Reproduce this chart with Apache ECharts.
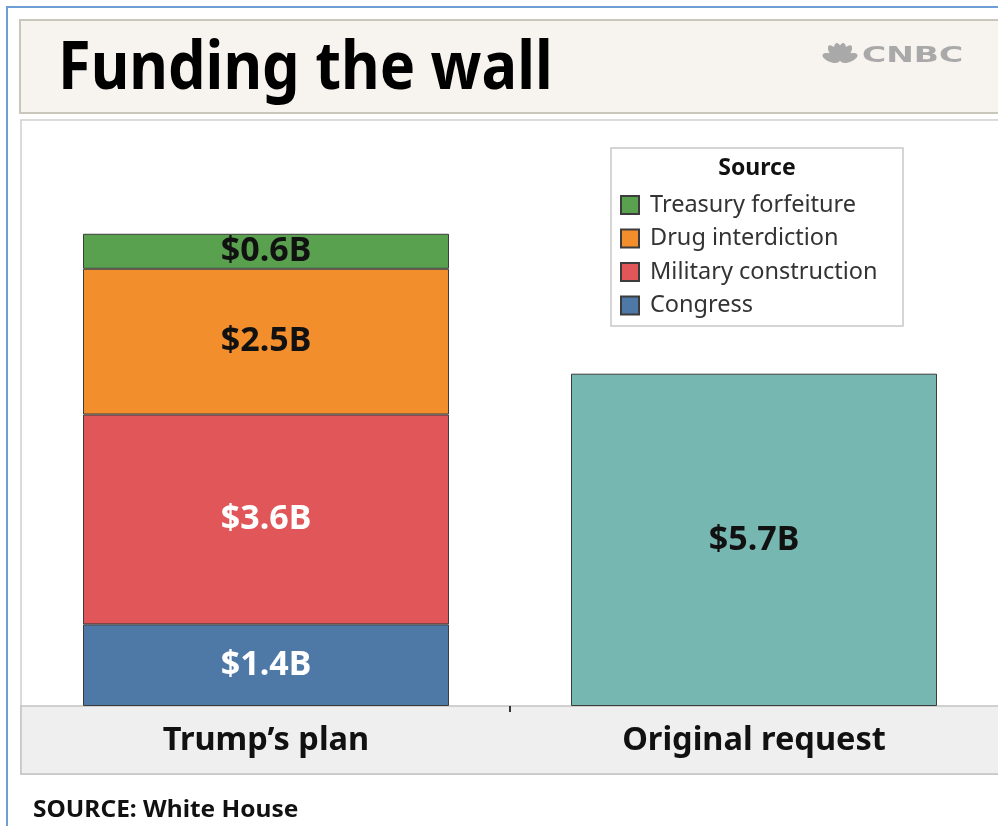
<!DOCTYPE html>
<html>
<head>
<meta charset="utf-8">
<script src="https://cdn.jsdelivr.net/npm/echarts@6/dist/echarts.min.js"></script>
<style>
html,body{margin:0;padding:0;background:#fff;}
#c{width:998px;height:826px;}
</style>
</head>
<body>
<div id="c"></div>
<script>
const categories = ["Trump\u2019s plan", "Original request"];
const congress = [1.4, null];
const military = [3.6, null];
const drug = [2.5, null];
const treasury = [0.6, null];
const original = [null, 5.7];
const legendNames = ["Treasury forfeiture", "Drug interdiction", "Military construction", "Congress"];
const dividerTicks = [1];

const FONT = '"Noto Sans", "Open Sans", sans-serif';
const chart = echarts.init(document.getElementById('c'), null, {renderer: 'canvas'});

function mkSeries(name, data, color, labelColor) {
  return {
    name: name, type: 'bar', stack: 'a', data: data, barWidth: '75%', z: 5, xAxisIndex: 0,
    itemStyle: {color: color, borderColor: '#3c3c3c', borderWidth: 1},
    label: {
      show: true, position: 'inside', fontFamily: FONT, fontSize: 34, fontWeight: 'bold',
      color: labelColor, formatter: p => '$' + p.value + 'B'
    },
    emphasis: {disabled: true}
  };
}

const option = {
  backgroundColor: '#ffffff',
  animation: false,
  grid: {left: 22, top: 123, width: 977, height: 583, containLabel: false},
  xAxis: [{
    type: 'category', data: categories, z: 6,
    axisLine: {show: false},
    axisTick: {show: false},
    axisLabel: {fontFamily: FONT, fontSize: 32.5, fontWeight: 'bold', color: '#111', margin: 18}
  }, {
    type: 'value', min: 0, max: categories.length, interval: 1, position: 'bottom', z: 6,
    axisLine: {show: false}, splitLine: {show: false}, axisLabel: {show: false},
    axisTick: {show: true, length: 6, customValues: dividerTicks, lineStyle: {color: '#333', width: 2}}
  }],
  yAxis: {type: 'value', min: 0, max: 10, show: false, splitLine: {show: false}},
  legend: {
    data: legendNames, orient: 'vertical', left: 620, top: 193, padding: 0,
    itemWidth: 18, itemHeight: 18, itemGap: 9.5, icon: 'rect', z: 8,
    textStyle: {fontFamily: FONT, fontSize: 23.5, color: '#333', lineHeight: 23, padding: [0, 0, 0, 6]},
    selectedMode: false
  },
  series: [
    mkSeries('Congress', congress, '#4e79a7', '#ffffff'),
    mkSeries('Military construction', military, '#e15759', '#ffffff'),
    mkSeries('Drug interdiction', drug, '#f28e2c', '#111111'),
    mkSeries('Treasury forfeiture', treasury, '#59a14f', '#111111'),
    mkSeries('Original request', original, '#76b7b2', '#111111')
  ],
  graphic: [
    {type: 'polyline', z: 0, shape: {points: [[7, 826], [7, 7], [998, 7]]}, style: {stroke: '#6d9fd6', lineWidth: 2, fill: null}},
    {type: 'rect', z: 0, shape: {x: 20, y: 20, width: 990, height: 93}, style: {fill: '#f7f3ef', stroke: '#c9c6bc', lineWidth: 2}},
    {type: 'rect', z: 0, shape: {x: 21, y: 120, width: 990, height: 654}, style: {fill: '#ffffff', stroke: '#cfcfcf', lineWidth: 1.5}},
    {type: 'rect', z: 1, shape: {x: 21, y: 706, width: 990, height: 68}, style: {fill: '#efefef', stroke: '#c4c4c4', lineWidth: 1.5}},
    {type: 'text', z: 10, x: 58, y: 70, scaleX: 0.888, style: {text: 'Funding the wall', font: 'bold 67px ' + FONT, fill: '#000', textAlign: 'left', textVerticalAlign: 'middle'}},
    {type: 'text', z: 10, x: 862, y: 56, scaleX: 1.5, style: {text: 'CNBC', font: 'bold 22px "DejaVu Sans"', fill: '#a9a9a9', textAlign: 'left', textVerticalAlign: 'middle'}},
    {type: 'group', z: 10, x: 840, y: 62, children: [
      {type: 'ellipse', rotation: 1.2, shape: {cx: 0, cy: 0, rx: 4, ry: 9}, style: {fill: '#a9a9a9'}, x: -9, y: -4},
      {type: 'ellipse', rotation: 0.6, shape: {cx: 0, cy: 0, rx: 4, ry: 9}, style: {fill: '#a9a9a9'}, x: -6, y: -9},
      {type: 'ellipse', rotation: 0.15, shape: {cx: 0, cy: 0, rx: 4, ry: 9}, style: {fill: '#a9a9a9'}, x: -2, y: -10},
      {type: 'ellipse', rotation: -0.15, shape: {cx: 0, cy: 0, rx: 4, ry: 9}, style: {fill: '#a9a9a9'}, x: 2, y: -10},
      {type: 'ellipse', rotation: -0.6, shape: {cx: 0, cy: 0, rx: 4, ry: 9}, style: {fill: '#a9a9a9'}, x: 6, y: -9},
      {type: 'ellipse', rotation: -1.2, shape: {cx: 0, cy: 0, rx: 4, ry: 9}, style: {fill: '#a9a9a9'}, x: 9, y: -4}
    ]},
    {type: 'rect', z: 7, shape: {x: 611, y: 148, width: 292, height: 178}, style: {fill: '#ffffff', stroke: '#c8c8c8', lineWidth: 1.5}},
    {type: 'text', z: 10, x: 757, y: 168, style: {text: 'Source', font: 'bold 23px ' + FONT, fill: '#111', textAlign: 'center', textVerticalAlign: 'middle'}},
    {type: 'text', z: 10, x: 33, y: 810, scaleX: 1.02, style: {text: 'SOURCE: White House', font: 'bold 24px ' + FONT, fill: '#111', textAlign: 'left', textVerticalAlign: 'middle'}}
  ]
};
chart.setOption(option);
</script>
</body>
</html>
